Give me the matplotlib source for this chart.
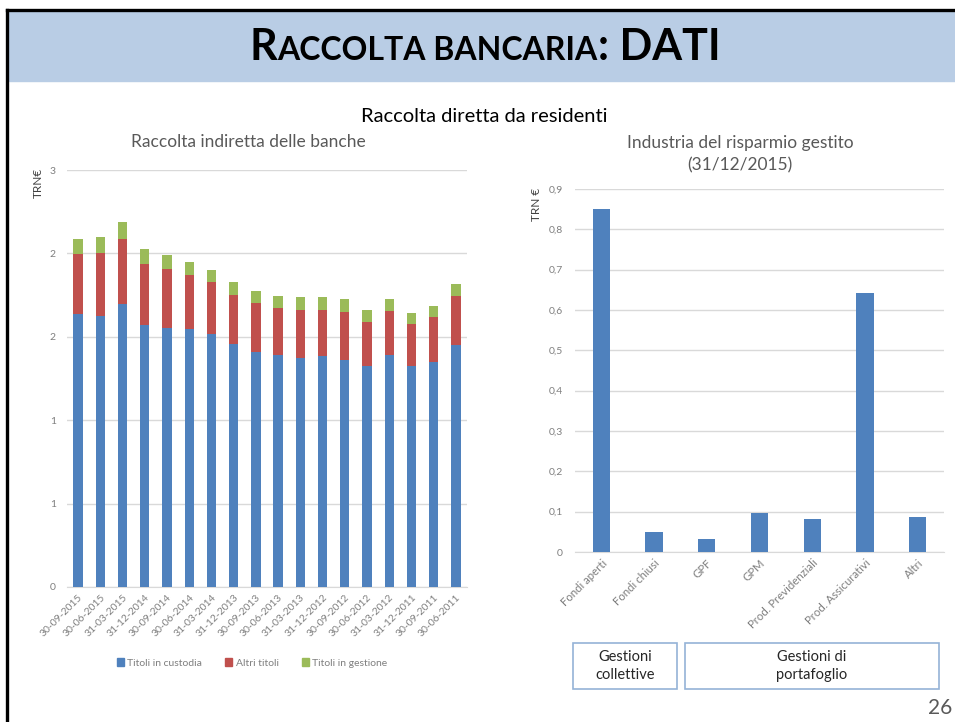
import numpy as np
import matplotlib
matplotlib.use('Agg')
import matplotlib.pyplot as plt
from matplotlib.patches import Rectangle
from matplotlib.lines import Line2D

plt.rcParams['font.family'] = ['Lato', 'DejaVu Sans']

# Left chart data (TRN euro)
dates = ['30-09-2015', '30-06-2015', '31-03-2015', '31-12-2014', '30-09-2014',
         '30-06-2014', '31-03-2014', '31-12-2013', '30-09-2013', '30-06-2013',
         '31-03-2013', '31-12-2012', '30-09-2012', '30-06-2012', '31-03-2012',
         '31-12-2011', '30-09-2011', '30-06-2011']
custodia = [1.635, 1.627, 1.695, 1.573, 1.553, 1.545, 1.519, 1.457, 1.411,
            1.393, 1.375, 1.387, 1.359, 1.327, 1.391, 1.325, 1.349, 1.449]
altri_titoli = [0.360, 0.373, 0.393, 0.365, 0.352, 0.325, 0.308, 0.292, 0.290,
                0.278, 0.284, 0.272, 0.292, 0.260, 0.264, 0.252, 0.272, 0.294]
gestione = [0.093, 0.096, 0.098, 0.088, 0.085, 0.078, 0.075, 0.081, 0.075,
            0.075, 0.078, 0.078, 0.078, 0.075, 0.074, 0.068, 0.065, 0.072]
series_names = ['Titoli in custodia', 'Altri titoli', 'Titoli in gestione']
left_ticks = [0, 0.5, 1.0, 1.5, 2.0, 2.5]
left_ticklabels = ['0', '1', '1', '2', '2', '3']

# Right chart data (TRN euro, 31/12/2015)
categories = ['Fondi aperti', 'Fondi chiusi', 'GPF', 'GPM',
              'Prod. Previdenziali', 'Prod. Assicurativi', 'Altri']
gestito = [0.850, 0.050, 0.031, 0.097, 0.081, 0.641, 0.088]
right_ticks = [0, 0.1, 0.2, 0.3, 0.4, 0.5, 0.6, 0.7, 0.8, 0.9]
right_ticklabels = ['0', '0,1', '0,2', '0,3', '0,4', '0,5', '0,6', '0,7', '0,8', '0,9']

BLUE = '#4F81BD'
RED = '#C0504D'
GREEN = '#9BBB59'
GRID = '#D9D9D9'
TICK = '#7F7F7F'
TITLE = '#595959'
W, H = 955, 722

fig = plt.figure(figsize=(W / 100, H / 100), dpi=100)

def fx(px):
    return px / W

def fy(py):
    return 1 - py / H

# header band and frame
fig.patches.append(Rectangle((fx(9), fy(81)), 1 - fx(9), fy(11) - fy(81),
                             transform=fig.transFigure, color='#B9CDE5', zorder=0))
fig.lines.append(Line2D([fx(7), 1], [fy(10), fy(10)], transform=fig.transFigure,
                        color='black', lw=2.4))
fig.lines.append(Line2D([fx(7), fx(7)], [0, fy(10)], transform=fig.transFigure,
                        color='black', lw=2.4))

# small caps title
renderer = fig.canvas.get_renderer()
pieces = [('R', 31), ('ACCOLTA BANCARIA', 23), (': DATI', 31)]
texts = []
total = 0
for s, size in pieces:
    t = fig.text(0, 0, s, fontsize=size, fontweight='bold', va='baseline',
                 ha='left', color='black')
    w = t.get_window_extent(renderer).width
    texts.append((t, w))
    total += w
x0 = 485 - total / 2
for t, w in texts:
    t.set_position((fx(x0), fy(60)))
    x0 += w

fig.text(fx(484), fy(117), 'Raccolta diretta da residenti', fontsize=14.5,
         ha='center', va='center', color='black')

# left chart
ax1 = fig.add_axes([fx(67), fy(587), fx(467) - fx(67), fy(170) - fy(587)])
x = np.arange(len(dates))
b1 = np.array(custodia)
b2 = b1 + np.array(altri_titoli)
ax1.bar(x, custodia, width=0.42, color=BLUE, zorder=3)
ax1.bar(x, altri_titoli, width=0.42, bottom=b1, color=RED, zorder=3)
ax1.bar(x, gestione, width=0.42, bottom=b2, color=GREEN, zorder=3)
ax1.set_xlim(-0.5, len(dates) - 0.5)
ax1.set_ylim(0, 2.5)
ax1.set_yticks(left_ticks)
ax1.set_yticklabels(left_ticklabels)
ax1.set_xticks(x)
ax1.set_xticklabels(dates, rotation=45, ha='right', rotation_mode='anchor')
ax1.grid(axis='y', color=GRID, lw=1, zorder=0)
for s in ax1.spines.values():
    s.set_visible(False)
ax1.spines['bottom'].set_visible(True)
ax1.spines['bottom'].set_color(GRID)
ax1.tick_params(length=0, labelsize=7.5, colors=TICK, pad=8)
ax1.tick_params(axis='x', pad=4)
fig.text(fx(248), fy(142), 'Raccolta indiretta delle banche', fontsize=12.5,
         color=TITLE, ha='center', va='center')
fig.text(fx(38), fy(168), 'TRN€', rotation=90, fontsize=8.5, color='#404040',
         ha='center', va='top')
handles = [Rectangle((0, 0), 1, 1, color=c) for c in (BLUE, RED, GREEN)]
fig.legend(handles, series_names, loc='center', bbox_to_anchor=(fx(252), fy(663)),
           ncol=3, frameon=False, fontsize=7.5, handlelength=0.7, handleheight=0.7,
           handletextpad=0.3, columnspacing=2.2, labelcolor=TICK)

# right chart
ax2 = fig.add_axes([fx(575), fy(552), fx(944) - fx(575), fy(189) - fy(552)])
xr = np.arange(len(categories))
ax2.bar(xr, gestito, width=0.33, color=BLUE, zorder=3)
ax2.set_xlim(-0.5, len(categories) - 0.5)
ax2.set_ylim(0, 0.9)
ax2.set_yticks(right_ticks)
ax2.set_yticklabels(right_ticklabels)
ax2.set_xticks(xr)
ax2.set_xticklabels(categories, rotation=45, ha='right', rotation_mode='anchor')
ax2.grid(axis='y', color=GRID, lw=1, zorder=0)
for s in ax2.spines.values():
    s.set_visible(False)
ax2.spines['bottom'].set_visible(True)
ax2.spines['bottom'].set_color(GRID)
ax2.tick_params(length=0, labelsize=7.5, colors=TICK, pad=9)
ax2.tick_params(axis='x', labelsize=8.2, pad=4)
fig.text(fx(740), fy(143), 'Industria del risparmio gestito', fontsize=12.5,
         color=TITLE, ha='center', va='center')
fig.text(fx(740), fy(165), '(31/12/2015)', fontsize=12.5,
         color=TITLE, ha='center', va='center')
fig.text(fx(536), fy(188), 'TRN €', rotation=90, fontsize=8.5, color='#404040',
         ha='center', va='top')

# group boxes
for (l, r, label) in [(573, 677, 'Gestioni\ncollettive'),
                      (685, 939, 'Gestioni di\nportafoglio')]:
    fig.patches.append(Rectangle((fx(l), fy(689)), fx(r) - fx(l), fy(643) - fy(689),
                                 transform=fig.transFigure, fill=False,
                                 edgecolor='#95B3D7', lw=1.2))
    fig.text(fx((l + r) / 2), fy(666), label, fontsize=10.5, ha='center',
             va='center', color='#262626', linespacing=1.4)

fig.text(fx(940), fy(708), '26', fontsize=15, ha='center', va='center',
         color='#595959')

fig.savefig('out.png', dpi=100)
